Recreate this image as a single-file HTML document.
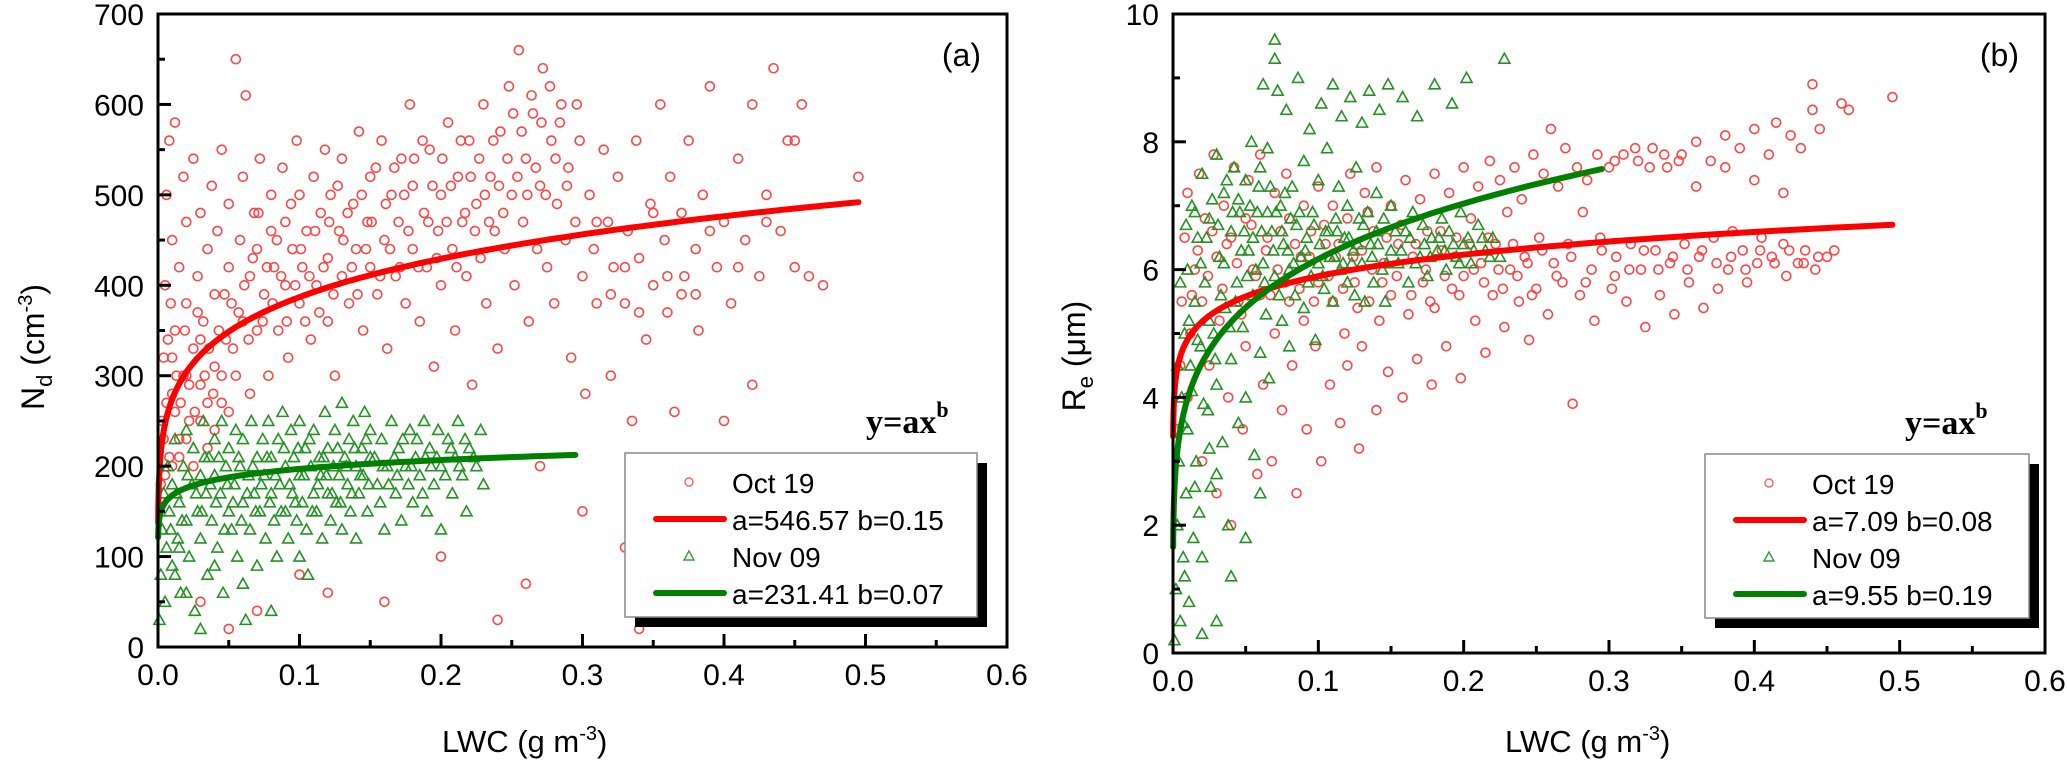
<!DOCTYPE html>
<html><head><meta charset="utf-8"><style>
html,body{margin:0;padding:0;background:#fff;}
svg{display:block;font-family:"Liberation Sans",sans-serif;}
</style></head><body>
<svg id="chart" width="2067" height="769" viewBox="0 0 2067 769" xmlns="http://www.w3.org/2000/svg"></svg>
<script>
// ---- data ----
const xTicks = ["0.0","0.1","0.2","0.3","0.4","0.5","0.6"];
const xTickVals = [0,0.1,0.2,0.3,0.4,0.5,0.6];
const yTicksA = [0,100,200,300,400,500,600,700];
const yTicksB = [0,2,4,6,8,10];
const fitA_oct = [546.57,0.15,0.495];
const fitA_nov = [231.41,0.07,0.295];
const fitB_oct = [7.09,0.08,0.495];
const fitB_nov = [9.55,0.19,0.295];
const octA = [[0.002,180],[0.003,250],[0.004,320],[0.005,400],[0.006,500],[0.008,210],[0.008,560],[0.01,280],[0.01,450],[0.012,350],[0.012,580],[0.015,230],[0.015,420],[0.018,300],[0.018,520],[0.02,380],[0.02,470],[0.022,250],[0.025,330],[0.025,540],[0.028,410],[0.03,290],[0.03,480],[0.032,360],[0.035,220],[0.035,440],[0.038,510],[0.04,310],[0.04,390],[0.042,460],[0.045,270],[0.045,550],[0.048,340],[0.05,420],[0.05,490],[0.052,380],[0.055,300],[0.055,650],[0.058,450],[0.06,360],[0.06,520],[0.062,610],[0.065,410],[0.065,280],[0.068,480],[0.07,350],[0.07,440],[0.072,540],[0.075,390],[0.078,300],[0.08,460],[0.08,500],[0.082,420],[0.085,350],[0.088,530],[0.09,400],[0.09,470],[0.092,320],[0.095,440],[0.098,560],[0.1,380],[0.1,500],[0.102,420],[0.105,460],[0.108,340],[0.11,520],[0.112,400],[0.115,480],[0.118,550],[0.12,360],[0.12,430],[0.122,500],[0.125,300],[0.128,460],[0.13,410],[0.13,540],[0.135,380],[0.138,490],[0.14,440],[0.142,570],[0.145,350],[0.148,470],[0.15,420],[0.15,520],[0.155,390],[0.158,560],[0.16,450],[0.162,330],[0.165,500],[0.168,410],[0.17,470],[0.172,540],[0.175,380],[0.178,600],[0.18,440],[0.18,510],[0.185,360],[0.188,480],[0.19,420],[0.192,550],[0.195,310],[0.198,460],[0.2,500],[0.2,400],[0.205,580],[0.208,440],[0.21,350],[0.212,520],[0.215,470],[0.218,410],[0.22,560],[0.222,290],[0.225,490],[0.228,430],[0.23,600],[0.232,380],[0.235,520],[0.238,460],[0.24,330],[0.242,570],[0.245,440],[0.248,620],[0.25,500],[0.252,400],[0.255,660],[0.258,470],[0.26,540],[0.262,360],[0.265,590],[0.268,440],[0.27,510],[0.272,640],[0.275,420],[0.278,560],[0.28,380],[0.282,490],[0.285,600],[0.288,450],[0.29,530],[0.292,320],[0.295,470],[0.298,560],[0.3,410],[0.302,280],[0.305,500],[0.308,440],[0.31,380],[0.315,550],[0.318,470],[0.32,300],[0.322,420],[0.325,520],[0.33,380],[0.332,460],[0.335,250],[0.338,560],[0.34,430],[0.345,340],[0.348,490],[0.35,400],[0.355,600],[0.358,450],[0.36,370],[0.362,520],[0.365,260],[0.37,480],[0.372,410],[0.375,560],[0.38,440],[0.382,350],[0.385,500],[0.39,620],[0.395,420],[0.4,470],[0.405,380],[0.41,540],[0.415,450],[0.42,600],[0.425,410],[0.43,500],[0.435,640],[0.44,460],[0.445,560],[0.45,420],[0.455,600],[0.46,410],[0.47,400],[0.495,520],[0.03,50],[0.05,20],[0.07,40],[0.1,80],[0.12,60],[0.16,50],[0.2,100],[0.24,30],[0.26,70],[0.3,150],[0.34,20],[0.27,200],[0.33,110],[0.4,250],[0.42,290],[0.005,190],[0.01,200],[0.015,210],[0.02,230],[0.025,200],[0.03,250],[0.035,270],[0.04,240],[0.045,300],[0.05,260],[0.01,320],[0.02,300],[0.03,340],[0.006,270],[0.012,260],
[0.004,230],[0.007,340],[0.009,380],[0.013,300],[0.016,270],[0.019,350],[0.022,290],[0.026,260],[0.028,370],[0.033,300],[0.036,330],[0.039,280],[0.043,350],[0.047,390],[0.053,330],[0.057,370],[0.061,400],[0.064,340],[0.067,430],[0.071,480],[0.074,360],[0.077,420],[0.081,380],[0.084,450],[0.087,410],[0.091,360],[0.094,490],[0.097,400],[0.101,440],[0.104,360],[0.107,410],[0.111,460],[0.114,370],[0.117,420],[0.121,470],[0.124,390],[0.127,510],[0.131,450],[0.134,480],[0.137,420],[0.141,390],[0.144,500],[0.147,440],[0.151,470],[0.154,530],[0.157,410],[0.161,490],[0.164,440],[0.167,530],[0.171,420],[0.174,500],[0.177,460],[0.181,540],[0.184,420],[0.187,560],[0.191,470],[0.194,510],[0.197,430],[0.201,540],[0.204,470],[0.207,510],[0.211,420],[0.214,560],[0.217,480],[0.221,520],[0.224,460],[0.227,540],[0.231,500],[0.234,470],[0.237,560],[0.241,510],[0.244,480],[0.247,540],[0.251,590],[0.254,520],[0.257,570],[0.261,500],[0.264,610],[0.267,530],[0.271,580],[0.274,500],[0.277,620],[0.281,540],[0.284,580],[0.289,510],[0.296,600],[0.31,470],[0.33,420],[0.35,480],[0.37,390],[0.39,460],[0.41,420],[0.43,470],[0.45,560],[0.32,390],[0.34,370],[0.36,410],[0.38,390]];
const novA = [[0.001,30],[0.002,80],[0.003,130],[0.004,170],[0.005,50],[0.006,110],[0.007,200],[0.008,150],[0.01,90],[0.01,180],[0.012,230],[0.014,120],[0.015,160],[0.016,60],[0.018,200],[0.02,140],[0.02,240],[0.022,100],[0.024,180],[0.025,220],[0.026,40],[0.028,150],[0.03,190],[0.03,120],[0.032,250],[0.034,170],[0.035,80],[0.036,210],[0.038,140],[0.04,190],[0.04,230],[0.042,110],[0.044,170],[0.045,250],[0.046,60],[0.048,200],[0.05,150],[0.05,220],[0.052,130],[0.054,180],[0.055,240],[0.056,100],[0.058,200],[0.06,160],[0.06,230],[0.062,30],[0.064,190],[0.065,130],[0.066,250],[0.068,170],[0.07,210],[0.07,90],[0.072,150],[0.074,230],[0.075,190],[0.076,120],[0.078,250],[0.08,170],[0.08,210],[0.082,140],[0.084,100],[0.085,230],[0.086,180],[0.088,260],[0.09,150],[0.09,200],[0.092,120],[0.094,240],[0.095,170],[0.096,210],[0.098,140],[0.1,190],[0.1,250],[0.102,160],[0.104,220],[0.105,130],[0.106,80],[0.108,200],[0.11,170],[0.11,240],[0.112,150],[0.114,210],[0.115,190],[0.116,120],[0.118,260],[0.12,170],[0.12,220],[0.122,140],[0.124,200],[0.125,240],[0.126,160],[0.128,190],[0.13,270],[0.13,130],[0.132,210],[0.134,180],[0.135,230],[0.136,150],[0.138,250],[0.14,200],[0.14,120],[0.142,170],[0.144,220],[0.145,190],[0.146,260],[0.148,150],[0.15,210],[0.15,240],[0.155,180],[0.158,230],[0.16,130],[0.162,200],[0.165,250],[0.168,170],[0.17,220],[0.172,140],[0.175,200],[0.178,240],[0.18,160],[0.182,210],[0.185,190],[0.188,250],[0.19,150],[0.192,220],[0.195,180],[0.198,240],[0.2,200],[0.2,130],[0.205,230],[0.208,170],[0.21,210],[0.212,250],[0.215,190],[0.218,150],[0.22,220],[0.225,200],[0.228,240],[0.23,180],[0.02,60],[0.04,90],[0.06,70],[0.08,40],[0.1,100],[0.03,20],[0.015,110],[0.012,80],
[0.009,130],[0.013,170],[0.017,140],[0.021,190],[0.027,170],[0.031,150],[0.033,210],[0.037,180],[0.041,160],[0.043,210],[0.047,130],[0.049,180],[0.053,160],[0.057,210],[0.059,140],[0.063,170],[0.067,200],[0.069,150],[0.073,180],[0.077,210],[0.079,160],[0.083,190],[0.087,150],[0.089,220],[0.093,180],[0.097,160],[0.099,220],[0.103,190],[0.107,230],[0.109,150],[0.113,180],[0.117,210],[0.119,190],[0.123,170],[0.127,220],[0.129,160],[0.133,200],[0.137,170],[0.139,220],[0.143,190],[0.147,230],[0.149,180],[0.153,210],[0.157,160],[0.159,200],[0.163,180],[0.167,210],[0.169,190],[0.173,230],[0.177,180],[0.179,200],[0.183,230],[0.187,170],[0.189,210],[0.193,200],[0.197,210],[0.203,190],[0.207,220],[0.213,200],[0.217,230],[0.223,210]];
const octB = [[0.003,3.5],[0.005,4.5],[0.006,5.5],[0.008,6.5],[0.01,4],[0.01,7.2],[0.012,5],[0.015,6],[0.018,7.5],[0.02,5.5],[0.02,3],[0.022,6.8],[0.025,4.5],[0.028,7.8],[0.03,6.2],[0.03,2.5],[0.032,5.2],[0.035,7],[0.038,4],[0.04,6.5],[0.04,2],[0.042,7.6],[0.045,5.5],[0.048,3.5],[0.05,6.8],[0.05,4.8],[0.052,7.4],[0.055,6],[0.058,2.8],[0.06,5.6],[0.06,7.8],[0.062,4.2],[0.065,6.5],[0.068,3],[0.07,7.2],[0.07,5],[0.072,6],[0.075,3.8],[0.078,7.5],[0.08,5.5],[0.08,6.8],[0.082,4.5],[0.085,2.5],[0.088,6.2],[0.09,7],[0.09,5.2],[0.092,3.5],[0.095,6.6],[0.098,4.8],[0.1,7.3],[0.1,5.8],[0.102,3],[0.105,6.4],[0.108,4.2],[0.11,7],[0.11,5.5],[0.112,6.2],[0.115,3.6],[0.118,5],[0.12,6.8],[0.12,4.5],[0.122,7.5],[0.125,5.8],[0.128,3.2],[0.13,6.3],[0.13,4.8],[0.132,7.2],[0.135,5.5],[0.138,6.6],[0.14,3.8],[0.14,7.6],[0.142,5.2],[0.145,6.1],[0.148,4.4],[0.15,7],[0.15,5.6],[0.155,6.4],[0.158,4],[0.16,7.4],[0.162,5.3],[0.165,6.2],[0.168,4.6],[0.17,7.1],[0.172,5.8],[0.175,6.6],[0.178,4.2],[0.18,7.5],[0.18,5.4],[0.185,6.3],[0.188,4.8],[0.19,7.2],[0.192,5.7],[0.195,6.5],[0.198,4.3],[0.2,7.6],[0.2,5.9],[0.205,6.8],[0.208,5.2],[0.21,7.3],[0.212,6.1],[0.215,4.7],[0.218,7.7],[0.22,5.6],[0.222,6.4],[0.225,7.4],[0.228,5.1],[0.23,6.9],[0.232,6],[0.235,7.6],[0.238,5.5],[0.24,7.1],[0.242,6.2],[0.245,4.9],[0.248,7.8],[0.25,5.7],[0.252,6.5],[0.255,7.5],[0.258,5.3],[0.26,8.2],[0.262,6.1],[0.265,7.3],[0.268,5.8],[0.27,7.9],[0.272,6.4],[0.275,3.9],[0.278,7.6],[0.28,5.6],[0.282,6.9],[0.285,7.4],[0.288,6],[0.29,5.2],[0.292,7.8],[0.295,6.3],[0.3,7.6],[0.302,5.7],[0.305,6.2],[0.31,7.8],[0.312,5.5],[0.315,6.4],[0.32,7.7],[0.322,6],[0.325,5.1],[0.33,7.9],[0.332,6.3],[0.335,5.6],[0.34,7.6],[0.342,6.1],[0.345,5.3],[0.35,7.8],[0.352,6.4],[0.355,5.8],[0.36,8],[0.362,6.2],[0.365,5.4],[0.37,7.7],[0.372,6.5],[0.375,5.7],[0.38,8.1],[0.382,6],[0.385,6.6],[0.39,7.9],[0.392,6.3],[0.395,5.8],[0.4,8.2],[0.402,6.1],[0.405,6.5],[0.41,7.8],[0.412,6.2],[0.415,8.3],[0.42,6.4],[0.422,5.9],[0.425,8.1],[0.43,6.1],[0.432,7.9],[0.435,6.3],[0.44,8.5],[0.442,6],[0.445,8.2],[0.45,6.2],[0.455,6.3],[0.46,8.6],[0.465,8.5],[0.495,8.7],[0.44,8.9],[0.42,7.2],[0.4,7.4],[0.38,7.6],[0.36,7.3],
[0.013,5.6],[0.017,6.3],[0.024,5.9],[0.027,6.6],[0.034,5.7],[0.037,6.4],[0.044,6.1],[0.047,5.3],[0.054,6.7],[0.057,5.9],[0.064,6.3],[0.067,5.6],[0.074,6.6],[0.077,5.8],[0.084,6.4],[0.087,5.7],[0.094,6.2],[0.097,5.5],[0.104,6.7],[0.107,5.9],[0.114,6.4],[0.117,5.7],[0.124,6.2],[0.127,5.4],[0.134,6.9],[0.137,6],[0.144,5.8],[0.147,6.5],[0.154,5.9],[0.157,6.7],[0.164,5.6],[0.167,6.4],[0.174,6],[0.177,5.5],[0.184,6.6],[0.187,5.9],[0.194,6.2],[0.197,5.6],[0.204,6.4],[0.207,6],[0.214,5.8],[0.217,6.5],[0.224,6],[0.227,5.7],[0.234,6.4],[0.237,5.9],[0.244,6.1],[0.247,5.6],[0.254,6.3],[0.264,5.9],[0.274,6.2],[0.284,5.8],[0.294,6.5],[0.304,5.9],[0.314,6],[0.324,6.3],[0.334,6],[0.344,6.2],[0.354,6],[0.364,6.3],[0.374,6.1],[0.384,6.2],[0.394,6],[0.404,6.3],[0.414,6.1],[0.424,6.3],[0.434,6.1],[0.444,6.2],[0.304,7.7],[0.318,7.9],[0.328,7.6],[0.338,7.8],[0.348,7.7]];
const novB = [[0.001,0.2],[0.002,1],[0.003,2],[0.004,3],[0.005,0.5],[0.006,4],[0.007,1.5],[0.008,5],[0.009,2.5],[0.01,6],[0.01,3.5],[0.011,0.8],[0.012,4.5],[0.013,7],[0.014,1.8],[0.015,5.5],[0.016,3],[0.017,6.5],[0.018,2.2],[0.019,4.8],[0.02,7.5],[0.02,0.3],[0.022,5.8],[0.024,3.8],[0.025,6.8],[0.026,2.6],[0.028,5],[0.03,7.8],[0.03,4.2],[0.032,6.2],[0.034,3.3],[0.035,7.2],[0.036,5.4],[0.038,2],[0.04,6.6],[0.04,4.6],[0.042,7.6],[0.044,5.8],[0.045,3.6],[0.046,6.9],[0.048,5.1],[0.05,7.4],[0.05,4],[0.052,6.3],[0.054,8],[0.055,5.6],[0.056,3.1],[0.058,6.9],[0.06,7.6],[0.06,4.7],[0.062,6.1],[0.064,5.3],[0.065,7.9],[0.066,4.3],[0.068,6.6],[0.07,9.3],[0.07,5.9],[0.072,8.8],[0.074,7],[0.075,5.2],[0.076,6.4],[0.078,8.5],[0.08,6],[0.08,4.8],[0.082,7.3],[0.084,5.6],[0.085,6.7],[0.086,9],[0.088,6.2],[0.09,7.7],[0.09,5.4],[0.092,6.5],[0.094,8.2],[0.095,5.9],[0.096,6.9],[0.098,4.9],[0.1,7.4],[0.1,6.1],[0.102,8.6],[0.104,5.7],[0.105,6.6],[0.106,7.9],[0.108,6.2],[0.11,8.9],[0.11,5.5],[0.112,6.8],[0.114,7.3],[0.115,6],[0.116,8.4],[0.118,6.5],[0.12,5.8],[0.12,7],[0.122,8.7],[0.124,6.3],[0.125,5.6],[0.126,7.6],[0.128,6.8],[0.13,8.3],[0.13,6.1],[0.132,5.5],[0.134,6.9],[0.135,8.8],[0.136,6.4],[0.138,5.8],[0.14,7.2],[0.14,6.6],[0.142,8.5],[0.144,6],[0.145,6.8],[0.146,5.5],[0.148,8.9],[0.15,6.3],[0.15,7],[0.155,6.1],[0.158,8.7],[0.16,6.6],[0.162,5.8],[0.165,6.9],[0.168,8.4],[0.17,6.2],[0.172,6.7],[0.175,5.9],[0.178,6.5],[0.18,8.9],[0.182,6.3],[0.185,6.8],[0.188,6],[0.19,6.6],[0.192,8.6],[0.195,6.2],[0.198,6.9],[0.2,6.4],[0.202,9],[0.205,6.1],[0.21,6.7],[0.215,6.3],[0.22,6.5],[0.228,9.3],[0.225,6.2],[0.07,9.6],[0.062,8.9],[0.03,0.5],[0.04,1.2],[0.05,1.8],[0.06,2.5],[0.02,1.5],
[0.003,4.5],[0.005,5.8],[0.007,3.6],[0.009,6.7],[0.011,5.2],[0.013,4.1],[0.015,6.9],[0.017,4.9],[0.019,6.1],[0.021,3.9],[0.023,6.5],[0.025,5.2],[0.027,7.1],[0.029,4.6],[0.031,6.7],[0.033,5.6],[0.035,6.1],[0.037,7.4],[0.039,5.1],[0.041,6.9],[0.043,5.5],[0.045,7.1],[0.047,6.3],[0.049,6.6],[0.051,5.9],[0.053,7],[0.055,6.5],[0.057,6],[0.059,7.3],[0.061,6.6],[0.063,5.8],[0.065,6.9],[0.067,7.3],[0.069,6.3],[0.071,6.9],[0.073,5.6],[0.075,6.6],[0.077,7.2],[0.079,6.3],[0.081,6.8],[0.083,6.1],[0.087,6.9],[0.091,6.3],[0.093,5.8],[0.097,6.7],[0.101,6.4],[0.103,5.9],[0.107,6.6],[0.111,6.2],[0.113,6.6],[0.117,6.1],[0.121,6.5],[0.123,6.1],[0.127,6.4],[0.131,6.7],[0.137,6.2],[0.141,6.4],[0.147,6.1],[0.153,6.6],[0.157,6.3],[0.163,6.5],[0.167,6.1],[0.173,6.4],[0.177,6.2],[0.183,6.5],[0.187,6.3],[0.193,6.4],[0.197,6.1],[0.203,6.5],[0.207,6.3],[0.213,6.5],[0.218,6.2],[0.03,2.8],[0.015,2.6],[0.008,1.2],[0.025,3.2]];

const NS = "http://www.w3.org/2000/svg";
const svg = document.getElementById('chart');
function mk(tag, attrs, parent){ const e=document.createElementNS(NS,tag); for(const k in attrs) e.setAttribute(k,attrs[k]); (parent||svg).appendChild(e); return e; }

function panel(P){
  const g = mk('g',{});
  
  
  const sx = v => P.L + (v/0.6)*(P.R-P.L);
  const sy = v => P.B - (v/P.ymax)*(P.B-P.T);
  const sc1 = mk('g',{fill:'none',stroke:'#ff4545','stroke-width':1.6},g);
  
  
  const sc2 = mk('g',{fill:'none',stroke:'#249324','stroke-width':1.6},g);
  
  
  P.oct.forEach(p=>{ const c=mk('circle',{cx:sx(p[0]),cy:sy(p[1]),r:4.5},sc1);
    
     });
  P.nov.forEach(p=>{ const x=sx(p[0]), y=sy(p[1]);
    const t=mk('polygon',{points:`${x},${y-5.5} ${x-5.5},${y+4.5} ${x+5.5},${y+4.5}`},sc2);
    
     });
  [[P.fitO,'#ff0000','oct19-fit-curve'],[P.fitN,'#008000','nov09-fit-curve']].forEach(f=>{
    const [a,b,xe]=f[0]; let d='';
    for(let i=0;i<=300;i++){ const x=0.0001*Math.pow(xe/0.0001,i/300); d+=(i?'L':'M')+sx(x).toFixed(1)+','+sy(a*Math.pow(x,b)).toFixed(1); }
    const p=mk('path',{d:d,fill:'none',stroke:f[1],'stroke-width':6,'stroke-linecap':'round'},g);
    
    
  });
  const fr=mk('rect',{x:P.L,y:P.T,width:P.R-P.L,height:P.B-P.T,fill:'none',stroke:'#000','stroke-width':3},g);
  
  
  for(let i=0;i<=12;i++){ const v=i*0.05, x=sx(v), len=i%2?7:13;
    mk('line',{x1:x,x2:x,y1:P.B,y2:P.B-len,stroke:'#000','stroke-width':3},g); }
  xTickVals.forEach((v,i)=>{ const t=mk('text',{x:sx(v),y:P.B+38,'font-size':30,'text-anchor':'middle'},g); t.textContent=xTicks[i];
    
     });
  const step=P.yt[1]-P.yt[0];
  for(let v=0; v<=P.ymax+1e-9; v+=step/2){ const y=sy(v); const major=Math.abs((v/step)-Math.round(v/step))<1e-6;
    mk('line',{x1:P.L,x2:P.L+(major?13:7),y1:y,y2:y,stroke:'#000','stroke-width':3},g); }
  P.yt.forEach(v=>{ const t=mk('text',{x:P.L-14,y:sy(v)+11,'font-size':30,'text-anchor':'end'},g); t.textContent=v;
    
     });
  const xt=mk('text',{x:P.xtx,y:752,'font-size':31},g);
  xt.innerHTML='LWC (g m<tspan dy="-12" font-size="20">-3</tspan><tspan dy="12">)</tspan>';
  
  
  const yt=mk('text',{x:0,y:0,'font-size':32,'text-anchor':'middle',transform:`translate(${P.ytx},${P.yty}) rotate(-90)`},g);
  yt.innerHTML=P.ytitle;
  
  
  const pl=mk('text',{x:P.R-26,y:66,'font-size':32,'text-anchor':'end'},g); pl.textContent=P.label;
  
  
  const eq=mk('text',{x:P.eqx,y:P.lgT-20,'font-size':34,'font-weight':'bold','font-family':'Liberation Serif, serif'},g);
  eq.innerHTML='y=ax<tspan dy="-16" font-size="22">b</tspan>';
  
  
  const lg=mk('g',{},g);
  
  
  mk('rect',{x:P.lgL+10,y:P.lgT+10,width:P.lgR-P.lgL,height:P.lgB-P.lgT,fill:'#000'},lg);
  mk('rect',{x:P.lgL,y:P.lgT,width:P.lgR-P.lgL,height:P.lgB-P.lgT,fill:'#fff',stroke:'#888','stroke-width':1.5},lg);
  const rows=[['Oct 19','c'],[P.lo,'r'],['Nov 09','t'],[P.ln,'g']];
  rows.forEach((r,i)=>{ const by=P.lgT+40+i*37, cx=P.lgL+64, cy=by-11;
    if(r[1]=='c') mk('circle',{cx:cx,cy:cy,r:4,fill:'none',stroke:'#ff6060','stroke-width':1.4},lg);
    if(r[1]=='t') mk('polygon',{points:`${cx},${cy-5} ${cx-5},${cy+4} ${cx+5},${cy+4}`,fill:'none',stroke:'#3a9a3a','stroke-width':1.4},lg);
    if(r[1]=='r'||r[1]=='g') mk('line',{x1:P.lgL+31,x2:P.lgL+99,y1:cy,y2:cy,stroke:r[1]=='r'?'#ff0000':'#008000','stroke-width':6,'stroke-linecap':'round'},lg);
    const t=mk('text',{x:P.lgL+107,y:by,'font-size':28},lg); t.textContent=r[0];
    
    
  });
}
panel({name:'panel-a',L:158,R:1007,T:14,B:647,ymax:700,yt:yTicksA,oct:octA,nov:novA,fitO:fitA_oct,fitN:fitA_nov,
  xtx:442,ytx:44,yty:347,ytitle:'N<tspan dy="8" font-size="22">d</tspan><tspan dy="-8"> (cm</tspan><tspan dy="-12" font-size="20">-3</tspan><tspan dy="12">)</tspan>',
  label:'(a)',eqx:866,lgL:625,lgR:977,lgT:453,lgB:617,lo:'a=546.57 b=0.15',ln:'a=231.41 b=0.07'});
panel({name:'panel-b',L:1173,R:2045,T:14,B:653,ymax:10,yt:yTicksB,oct:octB,nov:novB,fitO:fitB_oct,fitN:fitB_nov,
  xtx:1505,ytx:1085,yty:356,ytitle:'R<tspan dy="8" font-size="22">e</tspan><tspan dy="-8"> (μm)</tspan>',
  label:'(b)',eqx:1905,lgL:1705,lgR:2029,lgT:454,lgB:618,lo:'a=7.09 b=0.08',ln:'a=9.55 b=0.19'});
</script>
</body></html>
